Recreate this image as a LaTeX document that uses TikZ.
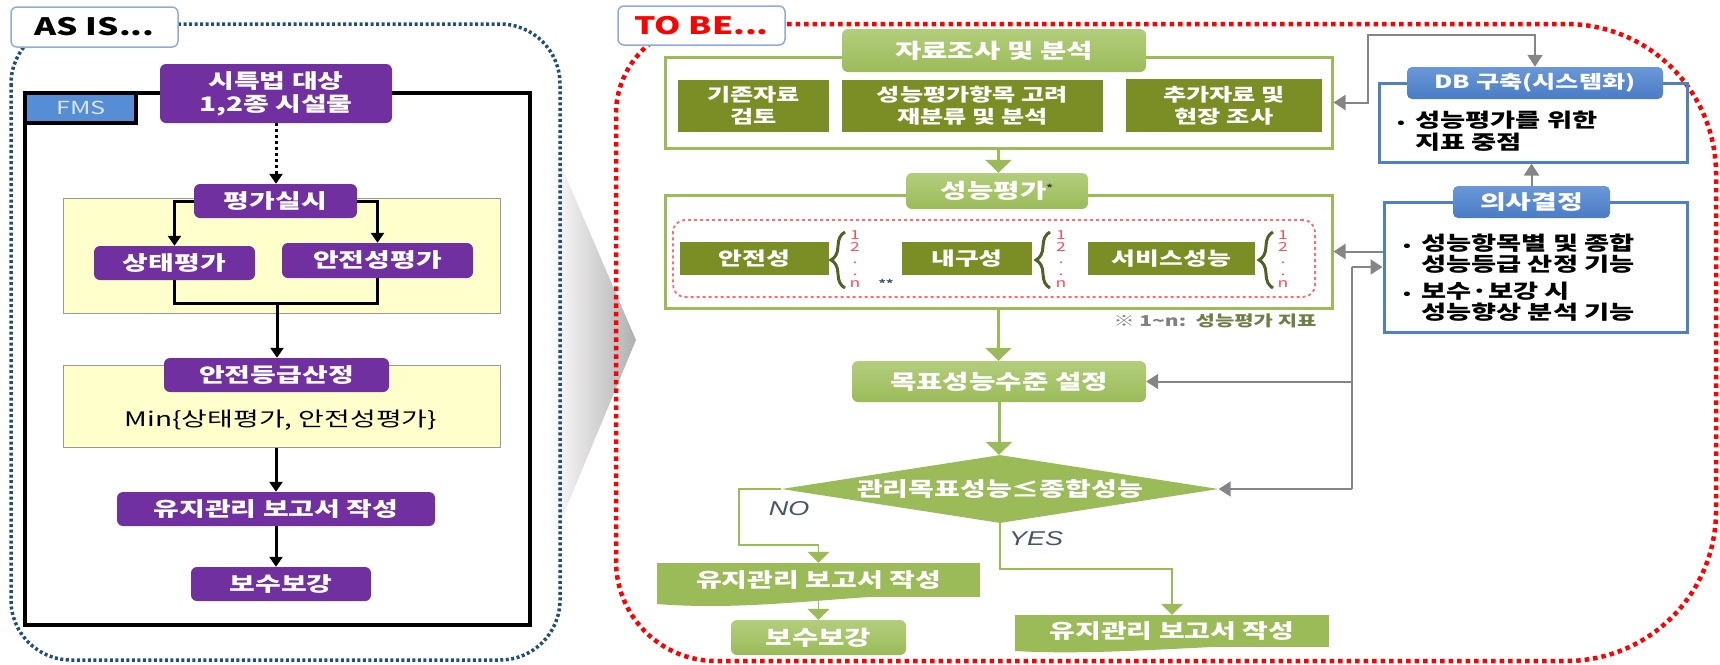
\documentclass[tikz,border=0pt]{standalone}
\usepackage{fontspec}
\setmainfont{Noto Sans CJK KR}[FakeStretch=1.4]
\newfontfamily\latinit{Liberation Sans}[FakeStretch=1.35]
\usetikzlibrary{arrows.meta,shapes.geometric,decorations.pathreplacing,calc}
\definecolor{purp}{HTML}{7030A0}
\definecolor{lyel}{HTML}{FFFFCC}
\definecolor{fmsblue}{HTML}{558ED5}
\definecolor{fmstext}{HTML}{DCE6F2}
\definecolor{asblue}{HTML}{1F4E79}
\definecolor{grn}{HTML}{9BBB59}
\definecolor{grnl}{HTML}{B3CE7C}
\definecolor{olivebox}{HTML}{7B8E25}
\definecolor{brc}{HTML}{4F6228}
\definecolor{bhead}{HTML}{4A7CC4}
\definecolor{bheadl}{HTML}{6A98D8}
\definecolor{bline}{HTML}{4F81BD}
\definecolor{gcon}{HTML}{858585}
\definecolor{slate}{HTML}{44546A}
\definecolor{lblb}{HTML}{8FAADC}
\definecolor{numred}{HTML}{FF4A5A}
\definecolor{dashred}{HTML}{FF6B6B}
\definecolor{fnc}{HTML}{6E7F45}
\newcommand\mybul{\makebox[18pt][l]{\fontsize{14}{14}\selectfont\textbullet}}
\newcommand\mybulsp{\hspace*{18pt}}
\begin{document}
\begin{tikzpicture}[x=1pt,y=-1pt,
  pbox/.style={rectangle, rounded corners=6pt, fill=purp, text=white, inner sep=0pt, align=center,
    font=\fontsize{20}{23}\selectfont\bfseries},
  ybox/.style={rectangle, fill=lyel, draw=gray!80, line width=1pt, inner sep=0pt},
  blk/.style={line width=3pt, -{Triangle[width=13pt,length=10pt]}},
  lbl/.style={rectangle, rounded corners=6pt, fill=white, draw=lblb, line width=1.5pt, inner sep=0pt,
    minimum width=167pt, font=\fontsize{24}{26}\selectfont\bfseries},
  ghead/.style={rectangle, rounded corners=6pt, top color=grnl, bottom color=grn, text=white, inner sep=0pt,
    align=center, font=\fontsize{20.5}{23}\selectfont\bfseries},
  gflat/.style={rectangle, fill=grn, text=white, inner sep=0pt, align=center, font=\fontsize{20}{22}\selectfont\bfseries},
  obox/.style={rectangle, fill=olivebox, text=white, inner sep=0pt, align=center, font=\fontsize{18}{22}\selectfont\bfseries},
  gframe/.style={rectangle, draw=grn, line width=3pt, inner sep=0pt},
  garrow/.style={draw=grn, line width=3pt, -{Triangle[width=26pt,length=13pt]}, grn},
  gthin/.style={draw=grn, line width=1.6pt},
  gthinar/.style={gthin, -{Triangle[width=22pt,length=11pt]}, grn},
  bframe/.style={rectangle, draw=bline, line width=3pt, inner sep=0pt},
  bheadst/.style={rectangle, rounded corners=5pt, top color=bheadl, bottom color=bhead, text=white, inner sep=0pt,
    font=\fontsize{19}{22}\selectfont\bfseries},
  gc/.style={draw=gcon, line width=2pt},
  gcar/.style={gc, -{Triangle[width=15pt,length=12pt]}, gcon},
  brstyle/.style={draw=brc, line width=3pt, decorate, decoration={brace, amplitude=14pt}},
  numst/.style={text=numred, inner sep=0pt, align=center, font=\fontsize{12.5}{12}\selectfont}
]
\useasboundingbox (0,0) rectangle (1720,664);

% chevron between panels
\shade[left color=white, right color=gray!62] (548,135) -- (636,340) -- (548,552) -- cycle;

% panels
\draw[asblue, line width=3.5pt, dash pattern=on 3pt off 2.5pt, rounded corners=60pt] (11,24) rectangle (560,660);
\draw[red, line width=4.5pt, dash pattern=on 4.5pt off 4pt]
  (616,340) [rounded corners=90pt] -- (616,24) -- (1100,24) [rounded corners=150pt] -- (1716,24) -- (1716,661) -- (1100,661) [rounded corners=100pt] -- (616,661) -- cycle;

\node[lbl, text=black, minimum height=40pt] (asis) at (94.5,27) {AS IS...};
\node[lbl, text=red, minimum height=39pt] (tobe) at (701.5,25.5) {TO BE...};

% ---------- AS IS ----------
\draw[line width=4pt] (25,93) rectangle (530,625);
\fill[fmsblue] (27,95) rectangle (136,123);
\draw[line width=4pt] (136,93) -- (136,123) -- (25,123);
\node[text=fmstext, font=\fontsize{18}{20}\selectfont, inner sep=0pt] (fms) at (81,108) {FMS};

\node[ybox, minimum width=437pt, minimum height=115pt] (yb1) at (281.5,255.5) {};
\node[ybox, minimum width=437pt, minimum height=82pt] (yb2) at (281.5,406) {};
\node[inner sep=0pt, font=\fontsize{20}{22}\selectfont] (mint) at (281,420) {Min\{상태평가, 안전성평가\}};

\node[pbox, minimum width=232pt, minimum height=59pt] (top) at (276,93.5) {시특법 대상\\1,2종 시설물};
\node[pbox, minimum width=163pt, minimum height=34pt] (pj) at (275.5,201) {평가실시};
\node[pbox, minimum width=161pt, minimum height=34pt] (sang) at (174.5,263) {상태평가};
\node[pbox, minimum width=191pt, minimum height=35pt] (anj) at (377.5,260.5) {안전성평가};
\node[pbox, minimum width=225pt, minimum height=34pt] (grade) at (276.5,375) {안전등급산정};
\node[pbox, minimum width=318pt, minimum height=34pt] (yuji) at (276,509) {유지관리 보고서 작성};
\node[pbox, minimum width=180pt, minimum height=34pt] (bosu) at (281,584) {보수보강};

\coordinate (merge) at (277,303);
\draw[blk, dash pattern=on 3pt off 3pt] (top.south) -- (top.south |- pj.north);
\draw[blk] (pj.west) -| (sang.north);
\draw[blk] (pj.east) -| (anj.north);
\draw[line width=3pt] (sang.south) |- (merge) -| (anj.south);
\draw[blk] (merge) -- (merge |- grade.north);
\draw[blk] (yuji.north |- yb2.south) -- (yuji.north);
\draw[blk] (yuji.south) -- (yuji.south |- bosu.north);

% ---------- TO BE ----------
\node[gframe, minimum width=667pt, minimum height=91pt] (f1) at (998.5,102.5) {};
\node[ghead, minimum width=304pt, minimum height=43pt] (h1) at (994,50.5) {자료조사 및 분석};
\node[obox, minimum width=151pt, minimum height=52pt] (o1) at (753.5,106) {기존자료\\검토};
\node[obox, minimum width=261pt, minimum height=52pt] (o2) at (972.5,106) {성능평가항목 고려\\재분류 및 분석};
\node[obox, minimum width=196pt, minimum height=53pt] (o3) at (1224,105.5) {추가자료 및\\현장 조사};

\node[gframe, minimum width=667pt, minimum height=113pt] (f2) at (998.5,251.5) {};
\node[ghead, minimum width=182pt, minimum height=36pt] (h2) at (997,191) {성능평가\raisebox{7pt}{\fontsize{9}{9}\selectfont\color{darkgray}*}};
\node[rectangle, draw=dashred, dashed, line width=1.8pt, rounded corners=12pt, minimum width=642pt, minimum height=77pt, inner sep=0pt] (rd) at (994,258.5) {};

\node[obox, minimum width=149pt, minimum height=33pt, font=\fontsize{18.5}{22}\selectfont\bfseries] (s1) at (754.5,258.5) {안전성};
\node[obox, minimum width=130pt, minimum height=33pt, font=\fontsize{18.5}{22}\selectfont\bfseries] (s2) at (967,258.5) {내구성};
\node[obox, minimum width=167pt, minimum height=33pt, font=\fontsize{18.5}{22}\selectfont\bfseries] (s3) at (1171.5,258.5) {서비스성능};
\draw[brstyle] (845,288) -- (845,232);
\draw[brstyle] (1050,288) -- (1050,232);
\draw[brstyle] (1273,288) -- (1273,232);
\node[numst] (n1) at (855,259) {1\\2\\.\\.\\n};
\node[numst] (n2) at (1061,259) {1\\2\\.\\.\\n};
\node[numst] (n3) at (1283,259) {1\\2\\.\\.\\n};
\node[text=slate, inner sep=0pt, font=\fontsize{10}{10}\selectfont\bfseries] (stars) at (886,283) {**};
\node[inner sep=0pt, font=\fontsize{15}{17}\selectfont\bfseries] (fn) at (1215,321)
  {\textcolor{gray}{※ 1{\char"7E}n:}~~\textcolor{fnc}{성능평가 지표}};

\node[ghead, minimum width=294pt, minimum height=41pt] (goal) at (999,381.5) {목표성능수준 설정};
\node[diamond, fill=grn, aspect=6.43, inner sep=0pt, minimum width=437pt, minimum height=68pt] (dia) at (1000,489) {};
\node[text=white, inner sep=0pt, font=\fontsize{20}{22}\selectfont\bfseries] (diat) at (dia.center) {관리목표성능≤종합성능};

\node[gflat, minimum width=323pt, minimum height=34pt] (nodoc) at (818.5,580) {유지관리 보고서 작성};
\fill[grn] (980,596) .. controls (880,588) and (770,613) .. (657,604) -- (657,596) -- cycle;
\node[ghead, minimum width=175pt, minimum height=35pt] (bosu2) at (818.5,637.5) {보수보강};
\node[gflat, minimum width=314pt, minimum height=32pt] (yesdoc) at (1172,631) {유지관리 보고서 작성};
\fill[grn] (1329,646) .. controls (1250,640) and (1120,657) .. (1015,651) -- (1015,646) -- cycle;

\draw[garrow] (f1.south) -- (f1.south |- h2.north);
\draw[garrow] (f2.south) -- (f2.south |- goal.north);
\draw[garrow] (goal.south) -- (goal.south |- dia.north);
\draw[gthinar] (dia.west) -- (739,489) |- (818.5,545) -- (nodoc.north);
\draw[gthinar] (dia.south) |- (1172,569) -- (yesdoc.north);
\draw[gthinar] (818.5,600) -- (bosu2.north);
\node[text=slate, inner sep=0pt, font=\latinit\itshape\fontsize{20}{22}\selectfont] (nol) at (789,509) {NO};
\node[text=slate, inner sep=0pt, font=\latinit\itshape\fontsize{20}{22}\selectfont] (yesl) at (1036,539) {YES};

% blue boxes
\node[bframe, minimum width=308pt, minimum height=79pt] (dbf) at (1533,122.5) {};
\node[bheadst, minimum width=256pt, minimum height=32pt, font=\fontsize{18}{20}\selectfont\bfseries] (dbh) at (1535,83) {DB 구축(시스템화)};
\node[anchor=north west, align=left, inner sep=0pt, font=\fontsize{19.5}{22}\selectfont\bfseries] (dbt) at (1397,111)
  {\mybul 성능평가를 위한\\\mybulsp 지표 중점};
\node[bframe, minimum width=303pt, minimum height=130pt] (decf) at (1535.5,267) {};
\node[bheadst, minimum width=157pt, minimum height=32pt, font=\fontsize{20}{22}\selectfont\bfseries] (dech) at (1531.5,202) {의사결정};
\node[anchor=north west, align=left, inner sep=0pt, font=\fontsize{19.5}{20.5}\selectfont\bfseries] (dect) at (1403,234)
  {\mybul 성능항목별 및 종합\\\mybulsp 성능등급 산정 기능\\[7pt]\mybul 보수·보강 시\\\mybulsp 성능향상 분석 기능};

% gray connectors
\draw[gc, {Triangle[width=15pt,length=12pt]}-{Triangle[width=15pt,length=12pt]}, gcon]
  (f1.east) -- (1368,102.5) -- (1368,35) -| (dbh.north);
\draw[gcar] (dech.north) -- (dech.north |- dbf.south);
\draw[gcar] (decf.west |- f2.east) -- (f2.east);
\coordinate (vx) at (1352,0);
\draw[gc] (vx |- decf.west) -- (vx |- dia.east);
\draw[gcar] (vx |- decf.west) -- (decf.west);
\draw[gcar] (vx |- goal.east) -- (goal.east);
\draw[gcar] (vx |- dia.east) -- (dia.east);
\end{tikzpicture}
\end{document}
